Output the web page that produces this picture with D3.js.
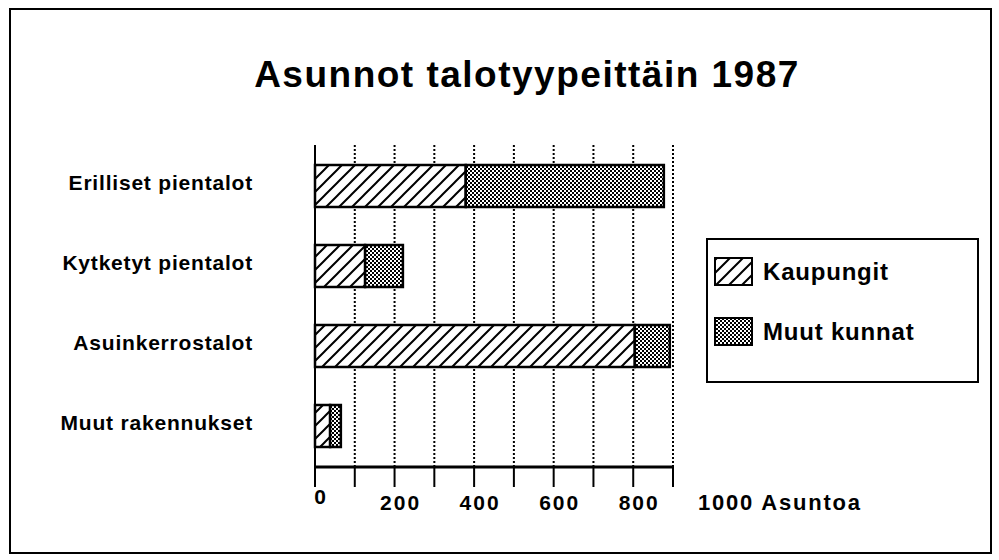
<!DOCTYPE html>
<html>
<head>
<meta charset="utf-8">
<script src="https://cdn.jsdelivr.net/npm/d3@7"></script>
<style>
  html, body { margin: 0; padding: 0; background: #fff; }
  svg { display: block; }
  text { font-family: "Liberation Sans", Arial, Helvetica, sans-serif; font-weight: bold; fill: #000; }
</style>
</head>
<body>
<svg id="chart" width="999" height="560"></svg>
<script>
const title = "Asunnot talotyypeittäin 1987";
const categories = ["Erilliset pientalot", "Kytketyt pientalot", "Asuinkerrostalot", "Muut rakennukset"];
const seriesNames = ["Kaupungit", "Muut kunnat"];
const kaupungit = [379, 126, 804, 38];
const muutKunnat = [498, 95, 88, 27];
const gridValues = [100, 200, 300, 400, 500, 600, 700, 800, 900];
const tickLabels = [0, 200, 400, 600, 800];
const unitLabel = "1000 Asuntoa";

const svg = d3.select("#chart");

// patterns
const defs = svg.append("defs");
const hatch = defs.append("pattern").attr("id", "hatch")
  .attr("patternUnits", "userSpaceOnUse").attr("width", 13).attr("height", 13);
hatch.append("rect").attr("width", 13).attr("height", 13).attr("fill", "#fff");
hatch.append("path").attr("d", "M-3,16 L16,-3 M-16,16 L3,-3 M10,16 L29,-3")
  .attr("stroke", "#000").attr("stroke-width", 2);

const dots = defs.append("pattern").attr("id", "dots")
  .attr("patternUnits", "userSpaceOnUse").attr("width", 4).attr("height", 4);
dots.append("rect").attr("width", 4).attr("height", 4).attr("fill", "#fff");
dots.append("rect").attr("x", 0).attr("y", 0).attr("width", 2).attr("height", 2).attr("fill", "#000");
dots.append("rect").attr("x", 2).attr("y", 2).attr("width", 2).attr("height", 2).attr("fill", "#000");

const fills = ["url(#hatch)", "url(#dots)"];

// frame
svg.append("rect").attr("x", 10).attr("y", 9).attr("width", 981).attr("height", 544)
  .attr("fill", "none").attr("stroke", "#000").attr("stroke-width", 2);

// title
svg.append("text").attr("x", 527).attr("y", 87).attr("text-anchor", "middle")
  .attr("font-size", 37).attr("letter-spacing", 1.5).text(title);

// scales
const x = d3.scaleLinear().domain([0, 900]).range([315, 673]);
const y = d3.scaleBand().domain(categories).range([145, 467]).paddingInner(0.475).paddingOuter(0.25);

// grid
svg.append("g").selectAll("line").data(gridValues).join("line")
  .attr("x1", d => x(d)).attr("x2", d => x(d))
  .attr("y1", 145).attr("y2", 467)
  .attr("stroke", "#000").attr("stroke-width", 2).attr("stroke-dasharray", "2,2");

// bars
const stacked = categories.map((c, i) => {
  const vals = [kaupungit[i], muutKunnat[i]];
  let acc = 0;
  return vals.map((v, j) => { const s = acc; acc += v; return { cat: c, j, x0: s, x1: acc }; });
});
const barG = svg.append("g");
stacked.forEach(segs => {
  barG.selectAll(null).data(segs).join("rect")
    .attr("x", d => x(d.x0)).attr("width", d => x(d.x1) - x(d.x0))
    .attr("y", d => y(d.cat)).attr("height", y.bandwidth())
    .attr("fill", d => fills[d.j]).attr("stroke", "#000").attr("stroke-width", 2.5);
});

// axes lines
svg.append("line").attr("x1", x(0)).attr("x2", x(0)).attr("y1", 145).attr("y2", 487)
  .attr("stroke", "#000").attr("stroke-width", 2);
svg.append("line").attr("x1", x(0) - 1).attr("x2", x(900) + 1).attr("y1", 467).attr("y2", 467)
  .attr("stroke", "#000").attr("stroke-width", 3);
svg.append("g").selectAll("line").data(gridValues).join("line")
  .attr("x1", d => x(d)).attr("x2", d => x(d)).attr("y1", 467).attr("y2", 487)
  .attr("stroke", "#000").attr("stroke-width", 2);

// category labels
svg.append("g").selectAll("text").data(categories).join("text")
  .attr("x", 253).attr("y", d => y(d) + y.bandwidth() / 2 + 4)
  .attr("text-anchor", "end").attr("font-size", 21).attr("letter-spacing", 0.8).text(d => d);

// tick labels
svg.append("g").selectAll("text").data(tickLabels).join("text")
  .attr("x", d => x(d) + 6).attr("y", d => d === 0 ? 504 : 510)
  .attr("text-anchor", "middle").attr("font-size", 21).attr("letter-spacing", 2).text(d => d);
svg.append("text").attr("x", x(900) + 25).attr("y", 510).attr("font-size", 22)
  .attr("letter-spacing", 1.8).text(unitLabel);

// legend
const lg = svg.append("g");
lg.append("rect").attr("x", 707).attr("y", 239).attr("width", 271).attr("height", 143)
  .attr("fill", "#fff").attr("stroke", "#000").attr("stroke-width", 2);
seriesNames.forEach((n, i) => {
  lg.append("rect").attr("x", 715).attr("y", 258 + i * 60).attr("width", 37).attr("height", 27)
    .attr("fill", fills[i]).attr("stroke", "#000").attr("stroke-width", 2);
  lg.append("text").attr("x", 763).attr("y", 280 + i * 60).attr("font-size", 24)
    .attr("letter-spacing", 0.8).text(n);
});
</script>
</body>
</html>
